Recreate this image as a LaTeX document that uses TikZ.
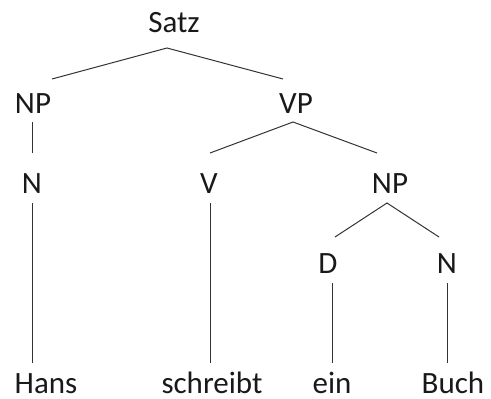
\documentclass[tikz,border=0pt]{standalone}
\usepackage{fontspec}
\setmainfont{Carlito}
\begin{document}
\begin{tikzpicture}[x=1pt,y=-1pt,
  lab/.style={anchor=base,inner sep=0pt,font=\fontsize{31}{31}\selectfont,text=black!90},
  branch/.style={draw=black!80,line width=1pt}]
\useasboundingbox (0,0) rectangle (491,399);
\node[lab] (satz) at (174,32) {Satz};
\node[lab] (np1) at (33,113) {NP};
\node[lab] (vp) at (296,113) {VP};
\node[lab] (n1) at (32,193) {N};
\node[lab] (v) at (209,193) {V};
\node[lab] (np2) at (390,193) {NP};
\node[lab] (d) at (328,273) {D};
\node[lab] (n2) at (447,273) {N};
\node[lab] (hans) at (46,393) {Hans};
\node[lab] (schreibt) at (212,393) {schreibt};
\node[lab] (ein) at (332,393) {ein};
\node[lab] (buch) at (453,393) {Buch};
% Satz
\draw[branch] ([shift={(19,-34)}]np1.base) -- ([shift={(-7,16)}]satz.base) -- ([shift={(-13,-34)}]vp.base);
% NP -> N
\draw[branch] ([shift={(-1,9)}]np1.base) -- ([shift={(0,-40)}]n1.base);
% VP
\draw[branch] ([shift={(1,-40)}]v.base) -- ([shift={(-3,9)}]vp.base) -- ([shift={(-13,-40)}]np2.base);
% N -> Hans
\draw[branch] ([shift={(0,10)}]n1.base) -- ([shift={(-14,-30)}]hans.base);
% V -> schreibt
\draw[branch] ([shift={(1,10)}]v.base) -- ([shift={(-2,-30)}]schreibt.base);
% NP2
\draw[branch] ([shift={(7,-36)}]d.base) -- ([shift={(-3,10)}]np2.base) -- ([shift={(-8,-36)}]n2.base);
% D -> ein
\draw[branch] ([shift={(4,10)}]d.base) -- ([shift={(0,-30)}]ein.base);
% N -> Buch
\draw[branch] ([shift={(0,10)}]n2.base) -- ([shift={(-6,-30)}]buch.base);
\end{tikzpicture}
\end{document}
